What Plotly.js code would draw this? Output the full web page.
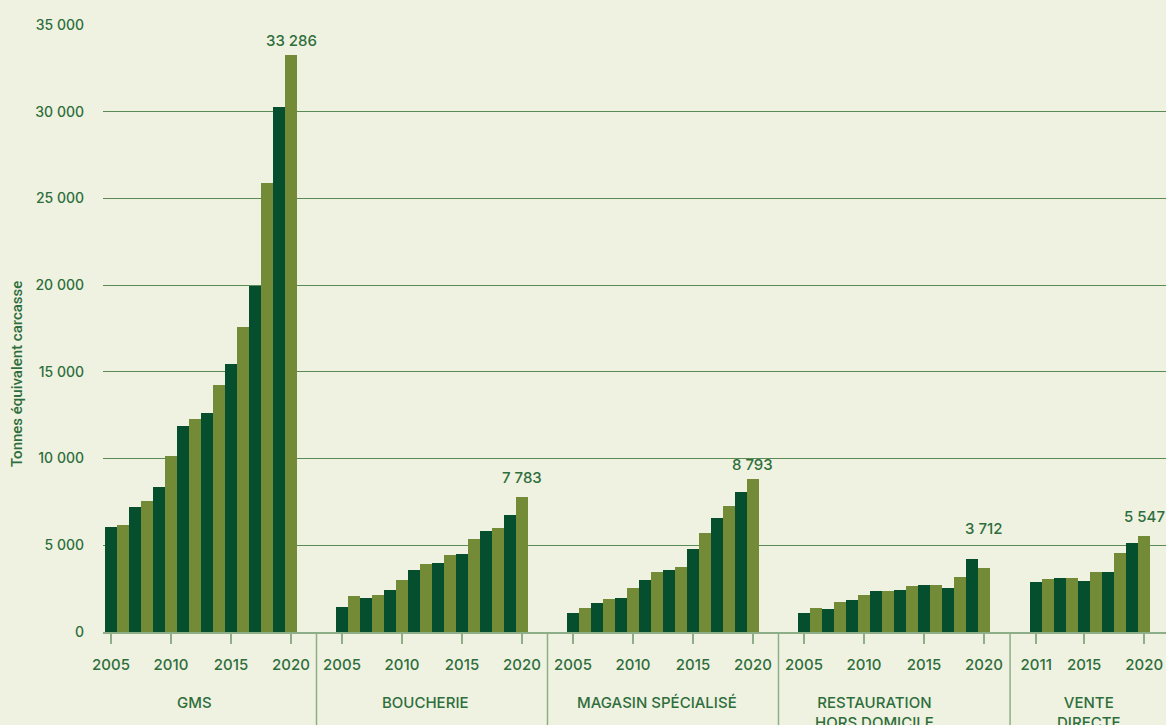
<!DOCTYPE html>
<html>
<head>
<meta charset="utf-8">
<script src="https://cdn.plot.ly/plotly-3.0.1.min.js"></script>
<style>
  html, body { margin: 0; padding: 0; background: #F0F2E1; }
  #chart { width: 1166px; height: 725px; }
</style>
</head>
<body>
<div id="chart"></div>
<script>
// ---- data ----
const groups = ['GMS', 'BOUCHERIE', 'MAGASIN SPÉCIALISÉ', 'RESTAURATION<br>HORS DOMICILE', 'VENTE<br>DIRECTE'];
const yearsFull = [2005, 2006, 2007, 2008, 2009, 2010, 2011, 2012, 2013, 2014, 2015, 2016, 2017, 2018, 2019, 2020];
const yearsVente = [2011, 2012, 2013, 2014, 2015, 2016, 2017, 2018, 2019, 2020];
const gms = [6050, 6170, 7200, 7550, 8360, 10150, 11880, 12280, 12630, 14240, 15450, 17590, 19970, 25890, 30270, 33286];
const boucherie = [1440, 2080, 1960, 2130, 2420, 3000, 3580, 3920, 3980, 4440, 4500, 5360, 5820, 6000, 6750, 7783];
const magasin = [1100, 1380, 1670, 1900, 1960, 2540, 3000, 3460, 3580, 3750, 4790, 5710, 6570, 7260, 8070, 8793];
const restauration = [1100, 1380, 1330, 1730, 1850, 2130, 2360, 2360, 2420, 2650, 2710, 2710, 2540, 3170, 4210, 3712];
const venteDirecte = [2880, 3060, 3110, 3110, 2940, 3460, 3460, 4560, 5130, 5547];
const groupYears = [yearsFull, yearsFull, yearsFull, yearsFull, yearsVente];
const groupValues = [gms, boucherie, magasin, restauration, venteDirecte];
const tickYears = [[2005, 2010, 2015, 2020], [2005, 2010, 2015, 2020], [2005, 2010, 2015, 2020], [2005, 2010, 2015, 2020], [2011, 2015, 2020]];
const yTicks = [0, 5000, 10000, 15000, 20000, 25000, 30000, 35000];

// ---- layout constants ----
const groupStart = [0, 19.25, 38.5, 57.75, 77.1];
const labelYShift = [3, 8, 3, 19, 8];
const groupLabelXShift = [-7, -6, -6, -19, -1];
const DARK = '#054F2E', OLIVE = '#738A36', TEXT = '#2E6E3C', LINE = '#8DAE87', GRID = '#5A8A55';
const FONT = 'Inter, Roboto, "Open Sans", sans-serif';

function fmt(v) { return String(v).replace(/\B(?=(\d{3})+(?!\d))/g, ' '); }

const traces = [];
const tickvals = [], ticktext = [];
const annotations = [];
const shapes = [];

groupValues.forEach((vals, g) => {
  const yrs = groupYears[g];
  const first = yrs[0];
  const xs = yrs.map(y => groupStart[g] + (y - first));
  traces.push({
    type: 'bar',
    x: xs,
    y: vals,
    width: 1,
    marker: { color: yrs.map(y => (y % 2 === 1 ? DARK : OLIVE)), line: { width: 0 } },
    hovertemplate: yrs.map(y => groups[g].replace('<br>', ' ') + ' ' + y + ': %{y}<extra></extra>'),
    showlegend: false
  });
  tickYears[g].forEach(y => { tickvals.push(groupStart[g] + (y - first)); ticktext.push(String(y)); });
  // value label on last bar
  const lastX = xs[xs.length - 1];
  const lastV = vals[vals.length - 1];
  annotations.push({
    x: lastX, y: Math.max(...vals), xref: 'x', yref: 'y',
    text: fmt(lastV), showarrow: false, yanchor: 'bottom', yshift: labelYShift[g],
    font: { family: FONT, size: 15, color: TEXT, weight: 500 }
  });
  // group label
  const mid = (xs[0] + lastX) / 2;
  annotations.push({
    x: mid, y: -0.097, xref: 'x', yref: 'paper', xshift: groupLabelXShift[g],
    text: groups[g], showarrow: false, yanchor: 'top', align: 'center',
    font: { family: FONT, size: 15, color: TEXT, weight: 500 }
  });
  // separator after group
  if (g < groupValues.length - 1) {
    const sepX = (lastX + groupStart[g + 1]) / 2;
    shapes.push({
      type: 'line', xref: 'x', yref: 'paper', x0: sepX, x1: sepX, y0: 0, y1: -0.16,
      line: { color: LINE, width: 1.5 }
    });
  }
});

const plotTop = 24, plotBottom = 632, plotLeft = 103;
const ph = plotBottom - plotTop;
const pw = 1166 - plotLeft;

// y-axis title (placed in pixel terms, converted to paper coords)
annotations.push({
  x: (17 - plotLeft) / pw, xref: 'paper', xanchor: 'center',
  y: (plotBottom - 374) / ph, yref: 'paper', yanchor: 'middle',
  text: 'Tonnes équivalent carcasse', showarrow: false, textangle: -90,
  font: { family: 'Roboto, Inter, sans-serif', size: 15, color: TEXT, weight: 500 }
});

const layout = {
  width: 1166, height: 725,
  margin: { l: plotLeft, r: 0, t: plotTop, b: 725 - plotBottom, pad: 0 },
  paper_bgcolor: '#F0F2E1', plot_bgcolor: '#F0F2E1',
  separators: ', ',
  bargap: 0,
  barmode: 'overlay',
  showlegend: false,
  font: { family: FONT, color: TEXT },
  xaxis: {
    range: [-0.667, 87.92], type: 'linear',
    tickvals: tickvals, ticktext: ticktext,
    ticks: 'outside', ticklen: 10, tickwidth: 1.5, tickcolor: LINE,
    tickfont: { family: FONT, size: 15, color: TEXT, weight: 500 },
    ticklabelstandoff: 8,
    showgrid: false, zeroline: false,
    showline: true, linecolor: LINE, linewidth: 1.5,
    fixedrange: true
  },
  yaxis: {
    range: [0, 35050],
    tickvals: yTicks, tickformat: ',d',
    tickfont: { family: FONT, size: 14, color: TEXT, weight: 500 },
    ticks: '', ticklabelstandoff: 18,
    showgrid: true, gridcolor: GRID, gridwidth: 1,
    zeroline: false, showline: false,
    fixedrange: true
  },
  annotations: annotations,
  shapes: shapes
};

Plotly.newPlot('chart', traces, layout, { displayModeBar: false, staticPlot: true });
</script>
</body>
</html>
